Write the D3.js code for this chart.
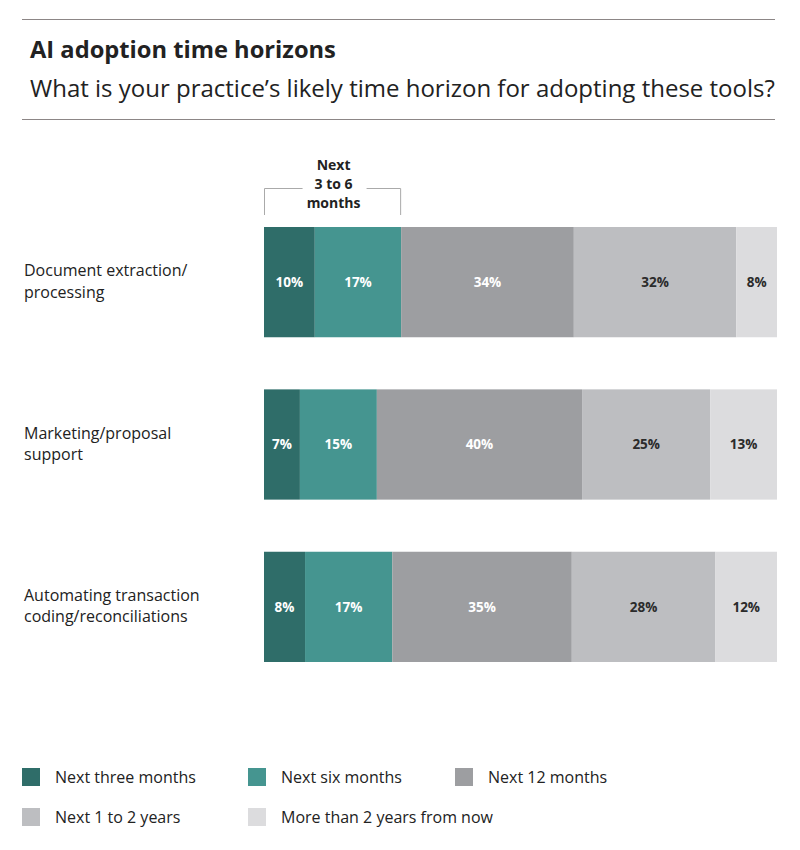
<!DOCTYPE html>
<html lang="en">
<head>
  <meta charset="UTF-8">
  <title>AI adoption time horizons</title>
  <style>
    body { margin: 0; background: #fff; font-family: "Open Sans", sans-serif; }
    svg { display: block; }
  </style>
</head>
<body>
  <svg width="800" height="850"></svg>
  <script src="https://d3js.org/d3.v7.min.js"></script>
  <script>
  const categories = [
    ["Document extraction/", "processing"],
    ["Marketing/proposal", "support"],
    ["Automating transaction", "coding/reconciliations"]
  ];
  const seriesNames = ["Next three months", "Next six months", "Next 12 months", "Next 1 to 2 years", "More than 2 years from now"];
  const nextThreeMonths = [10, 7, 8];
  const nextSixMonths = [17, 15, 17];
  const next12Months = [34, 40, 35];
  const next1To2Years = [32, 25, 28];
  const moreThan2Years = [8, 13, 12];
  const colors = ["#2f6d69", "#459590", "#9d9ea1", "#bdbec1", "#dcdcde"];
  const labelColors = ["#fff", "#fff", "#fff", "#2b2b2b", "#2b2b2b"];

  const allSeries = [nextThreeMonths, nextSixMonths, next12Months, next1To2Years, moreThan2Years];
  const rows = categories.map((c, i) => {
    const r = { key: i };
    seriesNames.forEach((s, j) => r[s] = allSeries[j][i]);
    return r;
  });

  const svg = d3.select("svg");

  // header rules and titles
  svg.append("line").attr("x1", 22).attr("x2", 775).attr("y1", 19.5).attr("y2", 19.5)
    .attr("stroke", "#8c8686").attr("stroke-width", 1.2);
  svg.append("line").attr("x1", 22).attr("x2", 775).attr("y1", 119.5).attr("y2", 119.5)
    .attr("stroke", "#8c8686").attr("stroke-width", 1.2);
  svg.append("text").attr("x", 30).attr("y", 58)
    .attr("font-size", 23.7).attr("font-weight", 700).attr("fill", "#222")
    .text("AI adoption time horizons");
  svg.append("text").attr("x", 30).attr("y", 97)
    .attr("font-size", 24).attr("fill", "#222")
    .text("What is your practice\u2019s likely time horizon for adopting these tools?");

  const x = d3.scaleLinear().domain([0, 1]).range([264, 777]);
  const y = d3.scaleBand().domain(d3.range(categories.length)).range([227, 662]).paddingInner(52 / 162);

  const stack = d3.stack().keys(seriesNames).offset(d3.stackOffsetExpand);
  const stacked = stack(rows);

  const layer = svg.append("g").selectAll("g")
    .data(stacked)
    .join("g")
    .attr("fill", (d, i) => colors[i]);

  layer.selectAll("rect")
    .data(d => d)
    .join("rect")
    .attr("x", d => x(d[0]))
    .attr("y", (d, i) => y(i))
    .attr("width", d => x(d[1]) - x(d[0]))
    .attr("height", y.bandwidth());

  svg.append("g").selectAll("g")
    .data(stacked)
    .join("g")
    .attr("fill", (d, i) => labelColors[i])
    .selectAll("text")
    .data((d, si) => d.map(v => ({ v, si })))
    .join("text")
    .attr("x", d => (x(d.v[0]) + x(d.v[1])) / 2)
    .attr("y", (d, i) => y(i) + y.bandwidth() / 2)
    .attr("dy", "0.36em")
    .attr("text-anchor", "middle")
    .attr("font-size", 13.5)
    .attr("font-weight", 700)
    .text(d => allSeries[d.si][d.v.data.key] + "%");

  // category labels
  const catText = svg.append("g").selectAll("text")
    .data(categories)
    .join("text")
    .attr("x", 24)
    .attr("y", (d, i) => y(i) + y.bandwidth() / 2)
    .attr("font-size", 16)
    .attr("fill", "#222");
  catText.selectAll("tspan")
    .data(d => d)
    .join("tspan")
    .attr("x", 24)
    .attr("y", function (d, j) {
      const base = +this.parentNode.getAttribute("y");
      return base - 6 + j * 21.5;
    })
    .text(d => d);

  // bracket over first two segments of first bar
  const bx0 = x(0), bx1 = x(stacked[1][0][1]);
  const bmid = (bx0 + bx1) / 2;
  const bracket = svg.append("g").attr("stroke", "#aaa").attr("fill", "none").attr("stroke-width", 1);
  bracket.append("path").attr("d", `M${bx0 + 0.5},215V188.5H${bmid - 30}`);
  bracket.append("path").attr("d", `M${bmid + 34},188.5H${bx1 - 0.5}V215`);
  svg.append("g").selectAll("text")
    .data(["Next", "3 to 6", "months"])
    .join("text")
    .attr("x", bmid + 1)
    .attr("y", (d, i) => 170 + i * 19)
    .attr("text-anchor", "middle")
    .attr("font-size", 14)
    .attr("font-weight", 700)
    .attr("fill", "#222")
    .text(d => d);

  // legend
  const legendPos = [[22, 768], [248, 768], [455, 768], [22, 808], [248, 808]];
  const legend = svg.append("g").selectAll("g")
    .data(seriesNames)
    .join("g")
    .attr("transform", (d, i) => `translate(${legendPos[i][0]},${legendPos[i][1]})`);
  legend.append("rect").attr("width", 18).attr("height", 18).attr("fill", (d, i) => colors[i]);
  legend.append("text").attr("x", 33).attr("y", 9).attr("dy", "0.36em")
    .attr("font-size", 16).attr("fill", "#222").text(d => d);
  </script>
</body>
</html>
